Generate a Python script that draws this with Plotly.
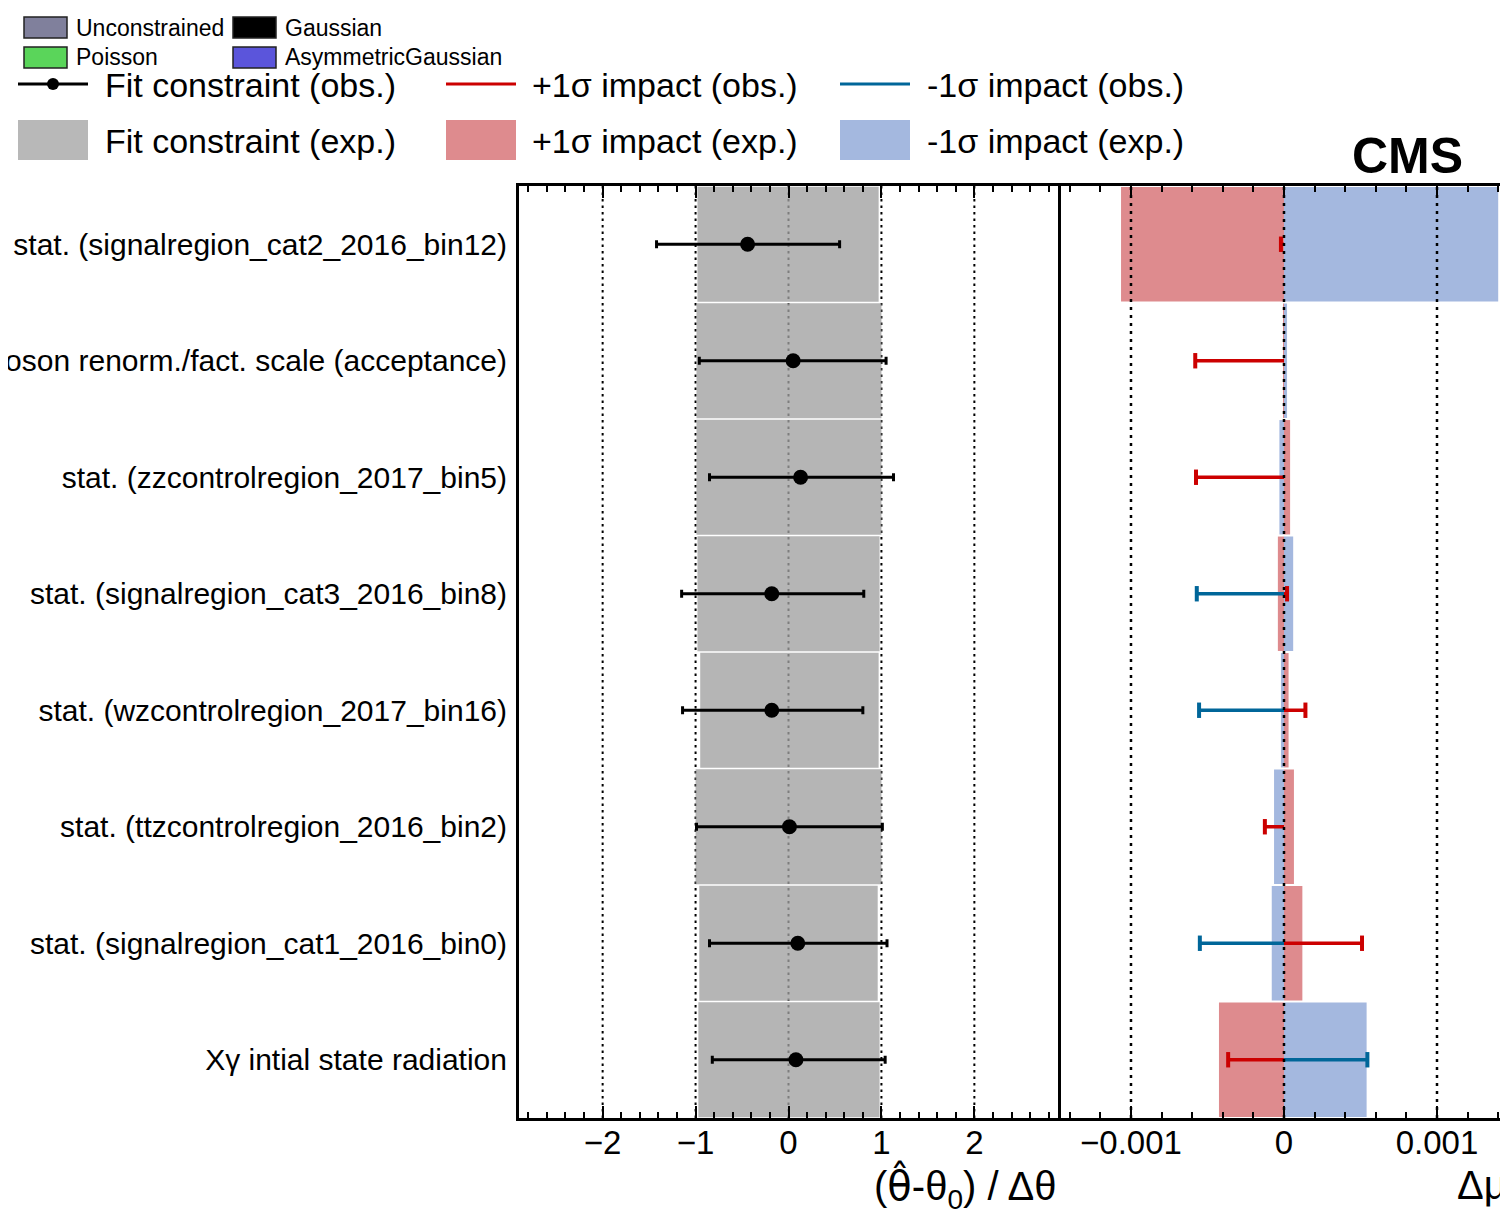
import plotly.graph_objects as go

# ---------------- data ----------------
params = [
    "stat. (signalregion_cat2_2016_bin12)",
    "Boson renorm./fact. scale (acceptance)",
    "stat. (zzcontrolregion_2017_bin5)",
    "stat. (signalregion_cat3_2016_bin8)",
    "stat. (wzcontrolregion_2017_bin16)",
    "stat. (ttzcontrolregion_2016_bin2)",
    "stat. (signalregion_cat1_2016_bin0)",
    "Xγ intial state radiation",
]
pull_obs = [-0.44, 0.05, 0.13, -0.18, -0.18, 0.01, 0.10, 0.08]
pull_err_lo = [0.98, 1.01, 0.98, 0.97, 0.96, 1.00, 0.95, 0.90]
pull_err_hi = [0.99, 1.00, 1.00, 0.99, 0.98, 1.00, 0.96, 0.96]
exp_band_lo = [0.98, 0.99, 0.99, 0.98, 0.95, 1.00, 0.96, 0.97]
exp_band_hi = [0.97, 1.00, 1.00, 0.98, 0.97, 1.00, 0.96, 0.98]

imp_up_exp = [-1.065e-3, -0.003e-3, 0.04e-3, -0.04e-3, 0.03e-3, 0.065e-3, 0.12e-3, -0.425e-3]
imp_dn_exp = [1.40e-3, 0.02e-3, -0.03e-3, 0.06e-3, -0.02e-3, -0.065e-3, -0.08e-3, 0.54e-3]
imp_up_obs = [-0.02e-3, -0.58e-3, -0.575e-3, 0.02e-3, 0.14e-3, -0.125e-3, 0.51e-3, -0.365e-3]
imp_dn_obs = [0.0, 0.0, 0.0, -0.57e-3, -0.555e-3, 0.0, -0.55e-3, 0.545e-3]

pull_ticks = [-2, -1, 0, 1, 2]
impact_ticks = [-0.001, 0, 0.001]
impact_ticktext = ["\u22120.001", "0", "0.001"]

# ---------------- style ----------------
OFF = 8                      # page body margin
W, H = 1500, 1210
M_T, M_B = 186 - OFF, 1218 - 1118
FONT = "Liberation Sans, Arial, Helvetica, sans-serif"
RED_L, BLUE_L = "#cc0000", "#006699"
RED_F, BLUE_F = "#de8b8e", "#a4b8df"
GRAY_F = "rgba(160,160,160,0.78)"


def px(x):
    return (x - OFF) / W


def py(y):
    return (H - M_B - (y - OFF)) / (H - M_T - M_B)


X1_DOM = [px(519), px(1058)]
X2_DOM = [px(1058), 1.0]

fig = go.Figure()

# expected pull band
fig.add_trace(go.Bar(
    y=params, x=[l + h for l, h in zip(exp_band_lo, exp_band_hi)],
    base=[-l for l in exp_band_lo], orientation="h", width=0.985,
    marker=dict(color=GRAY_F, line=dict(width=0)),
    xaxis="x", yaxis="y", showlegend=False, hoverinfo="skip"))

# observed pulls
fig.add_trace(go.Scatter(
    x=pull_obs, y=params, mode="markers",
    marker=dict(size=15, color="black"),
    error_x=dict(type="data", symmetric=False, array=pull_err_hi,
                 arrayminus=pull_err_lo, thickness=3, width=4, color="black"),
    xaxis="x", yaxis="y", showlegend=False))

# expected impacts
fig.add_trace(go.Bar(y=params, x=imp_up_exp, orientation="h", width=0.982,
                     marker=dict(color=RED_F, line=dict(width=0)),
                     xaxis="x2", yaxis="y2", showlegend=False))
fig.add_trace(go.Bar(y=params, x=imp_dn_exp, orientation="h", width=0.982,
                     marker=dict(color=BLUE_F, line=dict(width=0)),
                     xaxis="x2", yaxis="y2", showlegend=False))

# observed impacts (line from 0 with an end cap)
for vals, col in ((imp_dn_obs, BLUE_L), (imp_up_obs, RED_L)):
    xs, ys = [], []
    for p, v in zip(params, vals):
        xs += [0, v, None]
        ys += [p, p, None]
    fig.add_trace(go.Scatter(x=xs, y=ys, mode="lines",
                             line=dict(color=col, width=3.5),
                             xaxis="x2", yaxis="y2", showlegend=False))
    fig.add_trace(go.Scatter(x=vals, y=params, mode="markers",
                             marker=dict(symbol="line-ns", size=11,
                                         opacity=[0 if v == 0 else 1 for v in vals],
                                         line=dict(color=col, width=4)),
                             xaxis="x2", yaxis="y2", showlegend=False))

shapes = []
# dotted guide lines
for t in pull_ticks:
    shapes.append(dict(type="line", xref="x", yref="y domain", x0=t, x1=t, y0=0, y1=1,
                       line=dict(color="black", width=2, dash="2.5px,4px"), layer="below"))
for t in impact_ticks:
    shapes.append(dict(type="line", xref="x2", yref="y domain", x0=t, x1=t, y0=0, y1=1,
                       line=dict(color="black", width=2.5, dash="3px,5px"), layer="above"))

annotations = []

# ---- small legend (constraint types) ----
small_items = [
    ("Unconstrained", "#80809c", 24, 17),
    ("Gaussian", "#000000", 233, 17),
    ("Poisson", "#5ad55a", 24, 47),
    ("AsymmetricGaussian", "#5b55db", 233, 47),
]
for label, col, x0, y0 in small_items:
    shapes.append(dict(type="rect", xref="paper", yref="paper",
                       x0=px(x0), x1=px(x0 + 43), y0=py(y0), y1=py(y0 + 21),
                       fillcolor=col, line=dict(color="#222222", width=1.5)))
    annotations.append(dict(xref="paper", yref="paper", x=px(x0 + 50), y=py(y0 + 10.5),
                            text=label, showarrow=False, xanchor="left", yanchor="middle",
                            font=dict(family=FONT, size=23, color="black")))

# ---- main legend ----
LEG_X = [18, 446, 840]
ROW1_Y, ROW2_Y = 84, 140
shapes.append(dict(type="line", xref="paper", yref="paper", x0=px(18), x1=px(88),
                   y0=py(ROW1_Y), y1=py(ROW1_Y), line=dict(color="black", width=3)))
shapes.append(dict(type="circle", xref="paper", yref="paper", x0=px(47), x1=px(59),
                   y0=py(ROW1_Y - 6), y1=py(ROW1_Y + 6), fillcolor="black",
                   line=dict(color="black", width=0)))
shapes.append(dict(type="line", xref="paper", yref="paper", x0=px(446), x1=px(516),
                   y0=py(ROW1_Y), y1=py(ROW1_Y), line=dict(color=RED_L, width=3)))
shapes.append(dict(type="line", xref="paper", yref="paper", x0=px(840), x1=px(910),
                   y0=py(ROW1_Y), y1=py(ROW1_Y), line=dict(color=BLUE_L, width=3)))
for x0, col in zip(LEG_X, ["#b8b8b8", RED_F, BLUE_F]):
    shapes.append(dict(type="rect", xref="paper", yref="paper", x0=px(x0), x1=px(x0 + 70),
                       y0=py(120), y1=py(160), fillcolor=col, line=dict(width=0)))
leg_text = [
    ("Fit constraint (obs.)", 103, ROW1_Y), ("+1σ impact (obs.)", 530, ROW1_Y),
    ("-1σ impact (obs.)", 925, ROW1_Y),
    ("Fit constraint (exp.)", 103, ROW2_Y), ("+1σ impact (exp.)", 530, ROW2_Y),
    ("-1σ impact (exp.)", 925, ROW2_Y),
]
for txt, x, y in leg_text:
    annotations.append(dict(xref="paper", yref="paper", x=px(x), y=py(y + 1), text=txt,
                            showarrow=False, xanchor="left", yanchor="middle",
                            font=dict(family=FONT, size=34, color="black")))

# CMS label
annotations.append(dict(xref="paper", yref="paper", x=px(1350), y=py(156), text="<b>CMS</b>",
                        showarrow=False, xanchor="left", yanchor="middle",
                        font=dict(family=FONT, size=50, color="black")))
# axis titles
annotations.append(dict(xref="paper", yref="paper", x=X1_DOM[1], y=py(1187),
                        text="(<span style='font-family:DejaVu Sans'>\u03b8\u0302</span>"
                             "-\u03b8<sub>0</sub>) / \u0394\u03b8",
                        showarrow=False, xanchor="right", yanchor="middle",
                        font=dict(family=FONT, size=40, color="black")))
annotations.append(dict(xref="paper", yref="paper", x=px(1455), y=py(1185),
                        text="\u0394\u03bc", showarrow=False, xanchor="left", yanchor="middle",
                        font=dict(family=FONT, size=40, color="black")))

axis_common = dict(showline=True, linecolor="black", linewidth=3, ticks="inside",
                   tickcolor="black", tickwidth=2, ticklen=12, showgrid=False,
                   zeroline=False, mirror="allticks", ticklabelstandoff=-7,
                   tickfont=dict(family=FONT, size=33, color="black"))

fig.update_layout(
    width=W, height=H,
    margin=dict(l=0, r=0, t=M_T, b=M_B, pad=0),
    paper_bgcolor="white", plot_bgcolor="white",
    barmode="overlay", showlegend=False,
    font=dict(family=FONT, color="black"),
    xaxis=dict(domain=X1_DOM, range=[-2.9, 2.9], tickvals=pull_ticks, **axis_common,
               minor=dict(ticks="inside", ticklen=6, tickwidth=2, tickcolor="black",
                          dtick=0.2, tick0=0, showgrid=False), anchor="y"),
    xaxis2=dict(domain=X2_DOM, range=[-1.477e-3, 1.464e-3], tickvals=impact_ticks,
                ticktext=impact_ticktext, **axis_common,
                minor=dict(ticks="inside", ticklen=6, tickwidth=2, tickcolor="black",
                           dtick=0.0002, tick0=0, showgrid=False), anchor="y2"),
    yaxis=dict(domain=[0, 1], type="category", categoryorder="array",
               categoryarray=params[::-1], range=[-0.5, 7.5],
               showline=True, linecolor="black", linewidth=3, mirror=True,
               ticks="", showgrid=False, zeroline=False, ticklabelstandoff=3,
               tickfont=dict(family=FONT, size=30, color="black"),
               anchor="x", automargin=False),
    yaxis2=dict(domain=[0, 1], matches="y", type="category", categoryorder="array",
                categoryarray=params[::-1], range=[-0.5, 7.5],
                showline=False, ticks="", showticklabels=False, showgrid=False,
                zeroline=False, anchor="x2"),
    shapes=shapes, annotations=annotations,
)

fig.write_html("out.html")
